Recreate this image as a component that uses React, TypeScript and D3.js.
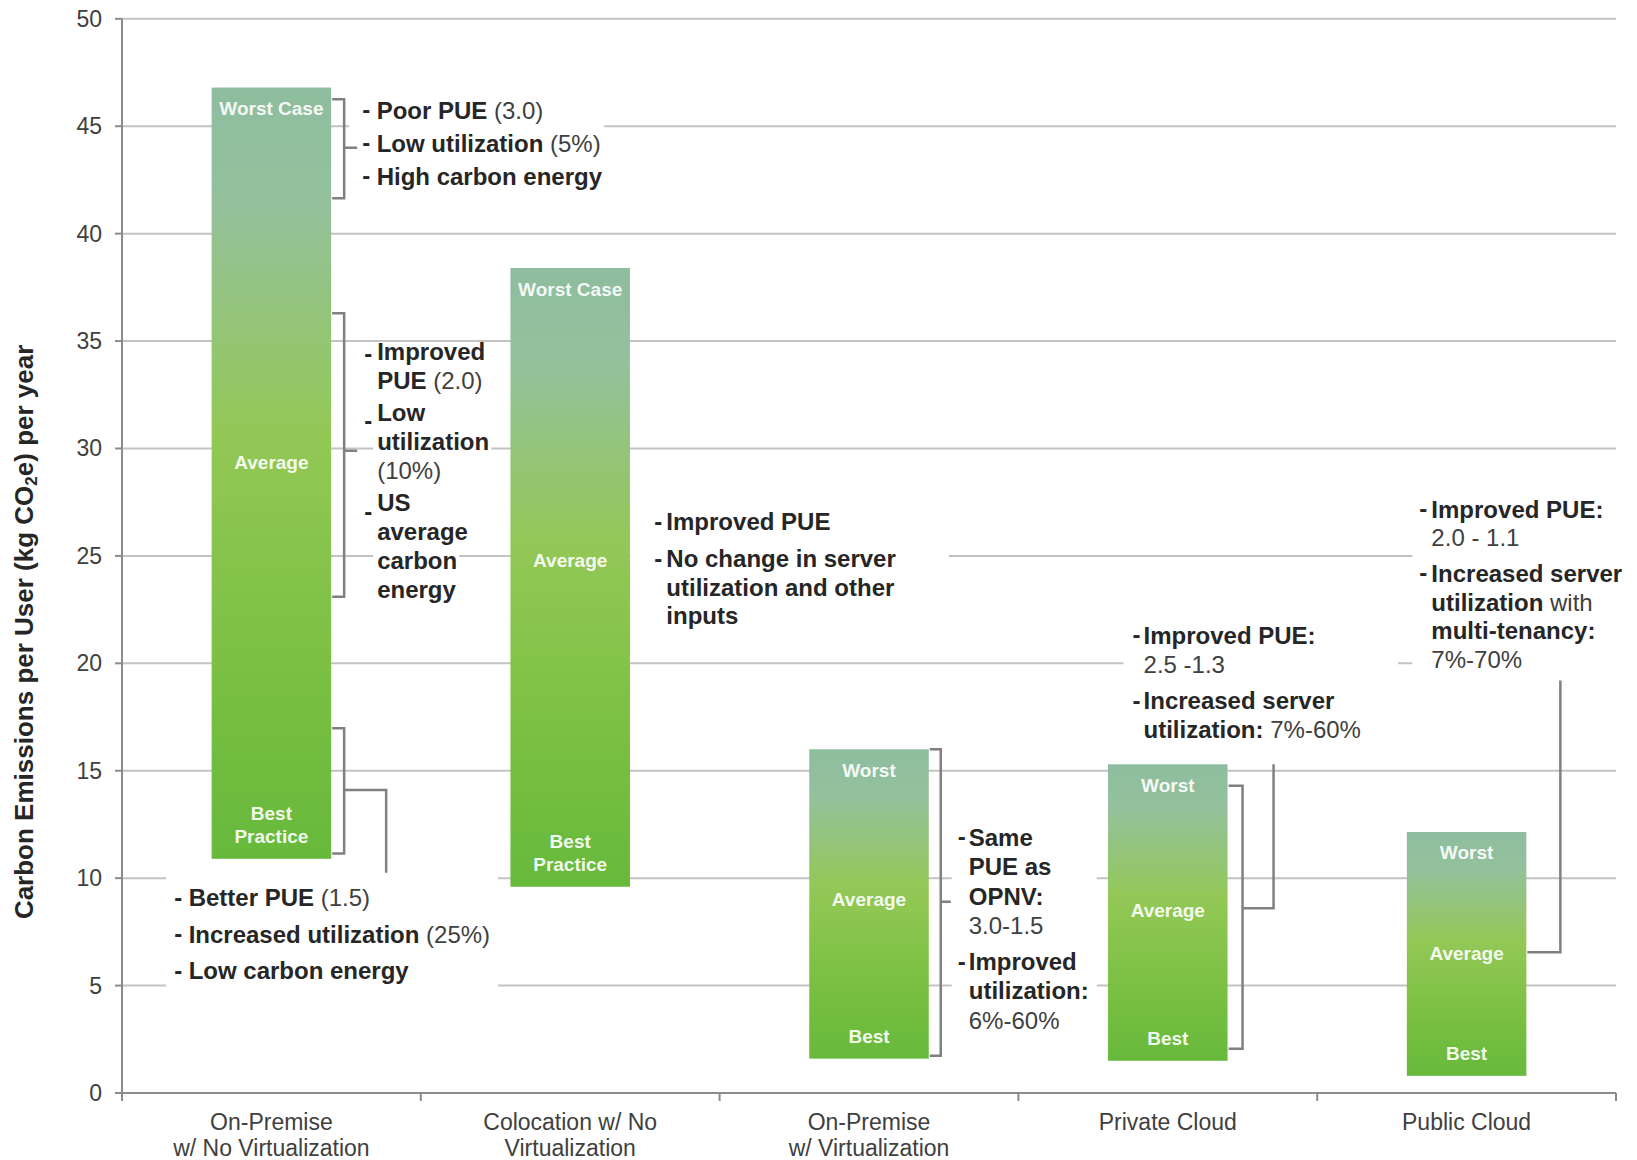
import React from 'react';
import * as d3 from 'd3';

// ---------- data ----------
const categoryKeys = ['opnv', 'colo', 'opv', 'private', 'public'];
const categoryLabels = [
  ['On-Premise', 'w/ No Virtualization'],
  ['Colocation w/ No', 'Virtualization'],
  ['On-Premise', 'w/ Virtualization'],
  ['Private Cloud'],
  ['Public Cloud'],
];
const worstCase = [46.8, 38.4, 16.0, 15.3, 12.15];
const bestPractice = [10.9, 9.6, 1.6, 1.5, 0.8];
const averageLabelAt = [29.35, 24.8, 9.0, 8.5, 6.5];
const worstLabels = [['Worst Case'], ['Worst Case'], ['Worst'], ['Worst'], ['Worst']];
const averageLabels = ['Average', 'Average', 'Average', 'Average', 'Average'];
const bestLabels = [['Best', 'Practice'], ['Best', 'Practice'], ['Best'], ['Best'], ['Best']];
const yTicks = [0, 5, 10, 15, 20, 25, 30, 35, 40, 45, 50];
const yTitle = ['Carbon Emissions per User (kg CO', '2', 'e) per year'];

// annotation texts ({...} = regular weight)
const noteOpnvWorst = [['Poor PUE {(3.0)}'], ['Low utilization {(5%)}'], ['High carbon energy']];
const noteOpnvAverage = [['Improved', 'PUE {(2.0)}'], ['Low', 'utilization', '{(10%)}'], ['US', 'average', 'carbon', 'energy']];
const noteOpnvBest = [['Better PUE {(1.5)}'], ['Increased utilization {(25%)}'], ['Low carbon energy']];
const noteColo = [['Improved PUE'], ['No change in server', 'utilization and other', 'inputs']];
const noteOpv = [['Same', 'PUE as', 'OPNV:', '{3.0-1.5}'], ['Improved', 'utilization:', '{6%-60%}']];
const notePrivate = [['Improved PUE:', '{2.5 -1.3}'], ['Increased server', 'utilization: {7%-60%}']];
const notePublic = [['Improved PUE:', '{2.0 - 1.1}'], ['Increased server', 'utilization {with}', 'multi-tenancy:', '{7%-70%}']];

// brackets (values on the y scale)
const bracketBar = [0, 0, 0, 2, 3];
const bracketTop = [46.25, 36.3, 16.98, 16.0, 14.3];
const bracketBottom = [41.65, 23.1, 11.15, 1.73, 2.06];
const bracketMid = [44.0, 29.9, 14.1, 8.9, 8.6];
const bracketLeadTo = [null, null, 10.25, null, 15.3];
const connectorBar = [4];
const connectorFrom = [6.55];
const connectorTo = [19.2];

// ---------- layout ----------
const W = 1637;
const H = 1160;
const FONT = '"Liberation Sans", Arial, Helvetica, sans-serif';

const noteLayout = [
  { text: noteOpnvWorst, bar: 0, dx: 31, at: 45.77, lh: 29, gap: 4, indent: 14.5, bg: 'box', pad: [16, 2, 16, 13], dashDy: [0, 0, 0] },
  { text: noteOpnvAverage, bar: 0, dx: 33, at: 34.54, lh: 28.7, gap: 4, indent: 13, bg: 'lines', pad: [9, 2, 15, 4], dashDy: [3, 8, 9] },
  { text: noteOpnvBest, bar: 0, dx: -157, at: 9.12, lh: 29, gap: 7.5, indent: 14.5, bg: 'box', pad: [24, 8, 20, 8], dashDy: [0, 0, 0] },
  { text: noteColo, bar: 1, dx: 24.4, at: 26.62, lh: 28.3, gap: 9, indent: 12, bg: 'box', pad: [16, 53, 16, 24], dashDy: [0, 0] },
  { text: noteOpv, bar: 2, dx: 29, at: 11.92, lh: 29.3, gap: 7, indent: 11, bg: 'box', pad: [16, 8, 16, 6], dashDy: [0, 0] },
  { text: notePrivate, bar: 3, dx: -95, at: 21.32, lh: 29, gap: 7.5, indent: 11, bg: 'box', pad: [16, 37, 16, 9], dashDy: [0, 0] },
  { text: notePublic, bar: 4, dx: -107, at: 27.2, lh: 28.8, gap: 6.5, indent: 12, bg: 'box', pad: [16, 14, 16, 7], dashDy: [0, 0] },
];
const bracketOffset: Record<number, number> = { 0: 13, 2: 12, 3: 15 };
const stubLen: Record<number, number> = { 0: 13, 2: 10, 3: 10 };
const leadOffset: Record<number, number> = { 0: 55, 3: 46, 4: 34 };

let _ctx: CanvasRenderingContext2D | null = null;
function measure(text: string, weight: number, size: number) {
  if (!_ctx && typeof document !== 'undefined') {
    _ctx = document.createElement('canvas').getContext('2d');
  }
  if (!_ctx) return text.length * size * 0.55;
  _ctx.font = `${weight} ${size}px ${FONT}`;
  return _ctx.measureText(text).width;
}

function parseLine(line: string) {
  const segs: { t: string; b: boolean }[] = [];
  const re = /\{([^}]*)\}/g;
  let last = 0;
  let m;
  while ((m = re.exec(line))) {
    if (m.index > last) segs.push({ t: line.slice(last, m.index), b: true });
    segs.push({ t: m[1], b: false });
    last = m.index + m[0].length;
  }
  if (last < line.length) segs.push({ t: line.slice(last), b: true });
  return segs;
}

const NOTE_SIZE = 24;

export default function App() {
  const plot = { left: 122, right: 1616, top: 18.8, bottom: 1093 };
  const y = d3.scaleLinear().domain([0, 50]).range([plot.bottom, plot.top]);
  const x = d3.scaleBand<string>().domain(categoryKeys).range([plot.left, plot.right]).paddingInner(0.6).paddingOuter(0.3);
  const bw = x.bandwidth();
  const barLeft = (i: number) => x(categoryKeys[i]) as number;
  const barRight = (i: number) => barLeft(i) + bw;
  const barCenter = (i: number) => barLeft(i) + bw / 2;
  const step = x.step();
  const boundaries = d3.range(categoryKeys.length + 1).map((k) => plot.left + k * step);

  // Build annotation geometry
  const notes = noteLayout.map((nl, ni) => {
    const x0 = barRight(nl.bar) + nl.dx;
    let cy = y(nl.at);
    const lines: { y: number; segs: { t: string; b: boolean }[]; first: boolean; w: number; dashDy: number }[] = [];
    nl.text.forEach((bullet, bi) => {
      if (bi > 0) cy += nl.gap;
      bullet.forEach((ln, li) => {
        const segs = parseLine(ln);
        const w = segs.reduce((s, g) => s + measure(g.t, g.b ? 700 : 400, NOTE_SIZE), 0);
        lines.push({ y: cy, segs, first: li === 0, w, dashDy: nl.dashDy[bi] || 0 });
        cy += nl.lh;
      });
    });
    const maxW = d3.max(lines, (l) => l.w) as number;
    const [pt, pr, pb, pl] = nl.pad;
    const rects: { x: number; y: number; w: number; h: number }[] = [];
    if (nl.bg === 'box') {
      const top = lines[0].y - pt;
      const bottom = lines[lines.length - 1].y + pb;
      const left = x0 - pl;
      const right = x0 + nl.indent + maxW + pr;
      rects.push({ x: left, y: top, w: right - left, h: bottom - top });
    } else {
      lines.forEach((l) => {
        const left = (l.first ? x0 : x0 + nl.indent) - pl;
        const right = x0 + nl.indent + l.w + pr;
        rects.push({ x: left, y: l.y - pt, w: right - left, h: pt + pb });
      });
    }
    return { key: ni, x0, indent: nl.indent, lines, rects };
  });

  const bracketStroke = '#808080';

  return (
    <svg
      width={W}
      height={H}
      viewBox={`0 0 ${W} ${H}`}
      style={{ position: 'absolute', left: 0, top: 0, background: '#fff', display: 'block' }}
      fontFamily={FONT}
    >
      <defs>
        <linearGradient id="barGrad" x1="0" y1="0" x2="0" y2="1">
          <stop offset="0" stopColor="#8ebd9f" />
          <stop offset="0.15" stopColor="#94c19c" />
          <stop offset="0.45" stopColor="#93c856" />
          <stop offset="0.78" stopColor="#78bf41" />
          <stop offset="1" stopColor="#67b93c" />
        </linearGradient>
      </defs>
      <rect x={0} y={0} width={W} height={H} fill="#fff" />

      {/* gridlines */}
      <g>
        {yTicks.filter((t) => t > 0).map((t) => (
          <line key={t} x1={plot.left} x2={plot.right} y1={y(t)} y2={y(t)} stroke="#c3c3c3" strokeWidth={2} />
        ))}
      </g>

      {/* note backgrounds */}
      <g>
        {notes.map((n) =>
          n.rects.map((r, i) => <rect key={`${n.key}-${i}`} x={r.x} y={r.y} width={r.w} height={r.h} fill="#fff" />)
        )}
      </g>

      {/* bars */}
      <g>
        {categoryKeys.map((k, i) => (
          <rect
            key={k}
            x={barLeft(i)}
            y={y(worstCase[i])}
            width={bw}
            height={y(bestPractice[i]) - y(worstCase[i])}
            fill="url(#barGrad)"
          />
        ))}
      </g>

      {/* in-bar labels */}
      <g fill="#ffffff" fillOpacity={0.93} fontWeight={700} fontSize={19} textAnchor="middle" dominantBaseline="central">
        {categoryKeys.map((k, i) => (
          <g key={k}>
            {worstLabels[i].map((t, j) => (
              <text key={`w${j}`} x={barCenter(i)} y={y(worstCase[i]) + 21 + j * 23}>
                {t}
              </text>
            ))}
            <text x={barCenter(i)} y={y(averageLabelAt[i])}>
              {averageLabels[i]}
            </text>
            {bestLabels[i].map((t, j) => (
              <text key={`b${j}`} x={barCenter(i)} y={y(bestPractice[i]) - 22 - (bestLabels[i].length - 1 - j) * 23}>
                {t}
              </text>
            ))}
          </g>
        ))}
      </g>

      {/* brackets */}
      <g fill="none" stroke={bracketStroke} strokeWidth={2.5}>
        {bracketBar.map((b, i) => {
          const r = barRight(b);
          const bx = r + bracketOffset[b];
          const p = d3.path();
          p.moveTo(r + 1, y(bracketTop[i]));
          p.lineTo(bx, y(bracketTop[i]));
          p.lineTo(bx, y(bracketBottom[i]));
          p.lineTo(r + 1, y(bracketBottom[i]));
          p.moveTo(bx, y(bracketMid[i]));
          const lead = bracketLeadTo[i];
          if (lead != null) {
            const lx = r + leadOffset[b];
            p.lineTo(lx, y(bracketMid[i]));
            p.lineTo(lx, y(lead));
          } else {
            p.lineTo(bx + stubLen[b], y(bracketMid[i]));
          }
          return <path key={i} d={p.toString()} />;
        })}
        {connectorBar.map((b, i) => {
          const r = barRight(b);
          const lx = r + leadOffset[b];
          const p = d3.path();
          p.moveTo(r + 1, y(connectorFrom[i]));
          p.lineTo(lx, y(connectorFrom[i]));
          p.lineTo(lx, y(connectorTo[i]));
          return <path key={`c${i}`} d={p.toString()} />;
        })}
      </g>

      {/* notes text */}
      <g fontSize={NOTE_SIZE} dominantBaseline="central" style={{ whiteSpace: 'pre' }}>
        {notes.map((n) => (
          <g key={n.key}>
            {n.lines.map((l, li) => (
              <g key={li}>
                {l.first && (
                  <text x={n.x0} y={l.y + l.dashDy} fontWeight={700} fill="#262626">
                    -
                  </text>
                )}
                <text x={n.x0 + n.indent} y={l.y}>
                  {l.segs.map((s, si) => (
                    <tspan key={si} fontWeight={s.b ? 700 : 400} fill={s.b ? '#262626' : '#404040'}>
                      {s.t}
                    </tspan>
                  ))}
                </text>
              </g>
            ))}
          </g>
        ))}
      </g>

      {/* axes */}
      <g stroke="#8c8c8c" strokeWidth={2}>
        <line x1={plot.left} x2={plot.left} y1={y(50)} y2={y(0)} />
        <line x1={plot.left} x2={plot.right} y1={y(0)} y2={y(0)} />
        {yTicks.map((t) => (
          <line key={t} x1={plot.left - 7} x2={plot.left} y1={y(t)} y2={y(t)} />
        ))}
        {boundaries.map((bx, i) => (
          <line key={i} x1={bx} x2={bx} y1={y(0)} y2={y(0) + 8} />
        ))}
      </g>
      <g fontSize={23} fill="#404040" textAnchor="end" dominantBaseline="central">
        {yTicks.map((t) => (
          <text key={t} x={102} y={y(t)}>
            {t}
          </text>
        ))}
      </g>
      <g fontSize={23} fill="#404040" textAnchor="middle" dominantBaseline="central">
        {categoryKeys.map((k, i) =>
          categoryLabels[i].map((t, j) => (
            <text key={`${k}${j}`} x={barCenter(i)} y={1122 + j * 26}>
              {t}
            </text>
          ))
        )}
      </g>

      {/* y title */}
      <text
        transform={`translate(24, ${(y(0) + y(50)) / 2 + 76}) rotate(-90)`}
        textAnchor="middle"
        fontSize={26}
        fontWeight={700}
        fill="#262626"
        dominantBaseline="central"
      >
        <tspan>{yTitle[0]}</tspan>
        <tspan fontSize={17} dy={7}>
          {yTitle[1]}
        </tspan>
        <tspan dy={-7}>{yTitle[2]}</tspan>
      </text>
    </svg>
  );
}
